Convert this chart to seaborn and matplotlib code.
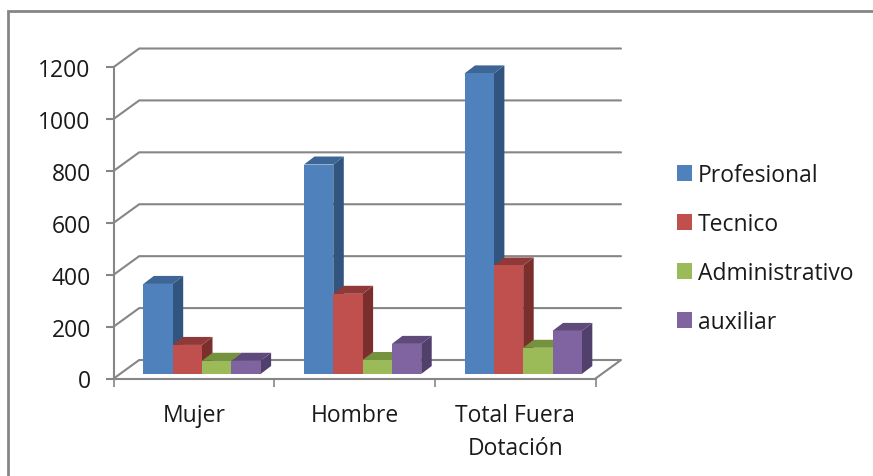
import matplotlib
matplotlib.use('Agg')
import matplotlib.pyplot as plt
import pandas as pd
import seaborn as sns
from matplotlib.lines import Line2D
from matplotlib.patches import Polygon
from matplotlib.transforms import Affine2D, IdentityTransform

categories = ['Mujer', 'Hombre', 'Total Fuera\nDotación']
profesional = [347, 807, 1158]
tecnico = [112, 309, 418]
administrativo = [51, 54, 101]
auxiliar = [51, 116, 166]
y_ticks = [0, 200, 400, 600, 800, 1000, 1200]

series_names = ['Profesional', 'Tecnico', 'Administrativo', 'auxiliar']
front_colors = ['#4F81BD', '#C0504D', '#9BBB59', '#8064A2']
side_colors = ['#32557F', '#7A2F2D', '#66803A', '#513F6C']
top_colors = ['#3D6595', '#8F3A38', '#75923F', '#604A7B']

grey = '#868686'
text_color = '#1A1A1A'

sns.set_style('white')
plt.rcParams['font.family'] = ['Open Sans', 'DejaVu Sans']

df = pd.DataFrame({'cat': categories, 'Profesional': profesional, 'Tecnico': tecnico,
                   'Administrativo': administrativo, 'auxiliar': auxiliar})
df = df.melt(id_vars='cat', var_name='serie', value_name='valor')

W, H = 873, 477
fig = plt.figure(figsize=(W / 100, H / 100), dpi=100)
# axes box is the front edge of the 3d floor, in pixels of the picture
ax = fig.add_axes([113.7 / W, 1 - 379.5 / H, (595.5 - 113.7) / W, 311.5 / H])

sns.barplot(data=df, x='cat', y='valor', hue='serie', hue_order=series_names,
            palette=front_colors, width=0.73, gap=0, saturation=1, legend=False, ax=ax)
ax.set_xlim(-0.5, 2.5)
ax.set_ylim(0, 1200)
ax.set_yticks(y_ticks)
ax.set_xlabel('')
ax.set_ylabel('')
ax.set_facecolor('none')
sns.despine(ax=ax)

for side in ['left', 'bottom']:
    ax.spines[side].set_color(grey)
    ax.spines[side].set_linewidth(1.5)

ax.set_xticks([-0.5, 0.5, 1.5, 2.5], minor=True)
ax.tick_params(axis='x', which='major', length=0, pad=18, labelsize=16.5, labelcolor=text_color)
ax.tick_params(axis='x', which='minor', length=5.5, width=1.2, color=grey, bottom=True)
ax.tick_params(axis='y', length=6, width=1.5, color=grey, left=True, pad=10.5,
               labelsize=16.5, labelcolor=text_color)
for lab in ax.get_xticklabels():
    lab.set_linespacing(1.45)

# back wall grid, shifted from the front axis
wall_dx, wall_dy = 25.5, 18.5
to_px = ax.transData.transform
for t in y_ticks:
    x0, y0 = to_px((-0.5, t))
    x1, y1 = to_px((2.5, t))
    pts = [(x0, y0), (x0 + wall_dx, y0 + wall_dy), (x1 + wall_dx, y1 + wall_dy)]
    if t == 0:
        pts.append((x1, y1))
    ax.add_line(Line2D([p[0] for p in pts], [p[1] for p in pts], transform=IdentityTransform(),
                       color=grey, lw=1.5, clip_on=False, zorder=1))

# bars stand a little behind the front edge, depth faces are worked out from each bar
bar_tr = ax.transData + Affine2D().translate(8, 4.5)
depth_dx, depth_dy = 10.5, 8
for i, cont in enumerate(ax.containers):
    for k, bar in enumerate(cont):
        order = 4 + k * 4 + i  # left to right, each bar covers the side of the one before
        bar.set_transform(bar_tr)
        bar.set_clip_on(False)
        bar.set_linewidth(0)
        bar.set_zorder(order)
        bx0, by0 = bar_tr.transform((bar.get_x(), 0))
        bx1, by1 = bar_tr.transform((bar.get_x() + bar.get_width(), bar.get_height()))
        side_face = [(bx1, by0), (bx1 + depth_dx, by0 + depth_dy), (bx1 + depth_dx, by1 + depth_dy), (bx1, by1)]
        top_face = [(bx0, by1), (bx0 + depth_dx, by1 + depth_dy), (bx1 + depth_dx, by1 + depth_dy), (bx1, by1)]
        ax.add_patch(Polygon(side_face, closed=True, fc=side_colors[i], lw=0,
                             transform=IdentityTransform(), clip_on=False, zorder=order - 0.5))
        ax.add_patch(Polygon(top_face, closed=True, fc=top_colors[i], lw=0,
                             transform=IdentityTransform(), clip_on=False, zorder=order - 0.5))

handles = [c[0] for c in ax.containers]
fig.legend(handles, series_names, loc='upper left', bbox_to_anchor=(668 / W, 1 - 155 / H),
           frameon=False, fontsize=16.5, handlelength=0.65, handleheight=0.7,
           handletextpad=0.26, labelspacing=1.09, borderaxespad=0, labelcolor=text_color)

# chart area border, only top and left show
fig.add_artist(Line2D([7.5 / W, 7.5 / W, 1], [0, 1 - 12 / H, 1 - 12 / H], color=grey, lw=2,
                      transform=fig.transFigure, solid_joinstyle='miter'))

fig.savefig('out.png', dpi=100)
